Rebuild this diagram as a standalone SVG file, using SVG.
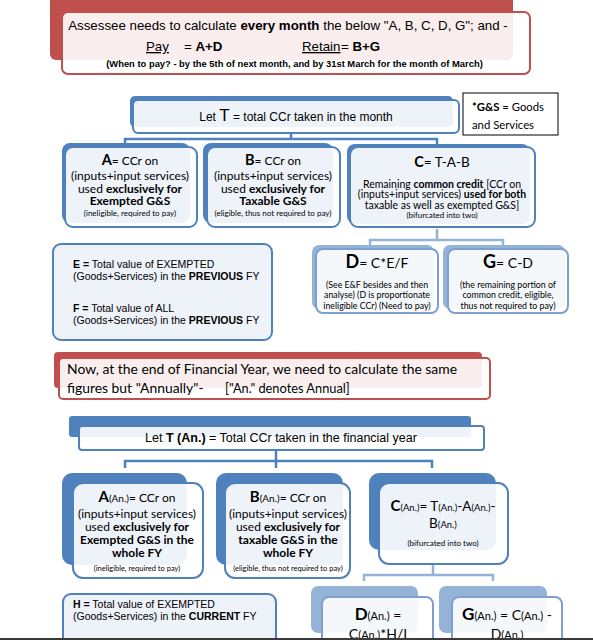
<svg xmlns="http://www.w3.org/2000/svg" width="593" height="640" viewBox="0 0 593 640">
<style>
.bg{fill:#ffffff}
.rback{fill:#c0504d}
.rfront{fill:#ffffff;fill-opacity:0.9;stroke:#c0504d;stroke-width:2}
.bback{fill:#4f81bd}
.bfront{fill:#ffffff;fill-opacity:0.9;stroke:#4f81bd;stroke-width:2}
.lback{fill:#95b3d7}
.lfront{fill:#ffffff;fill-opacity:0.9;stroke:#7f9fcf;stroke-width:2}
.plain{fill:#eef2f9;stroke:#4f81bd;stroke-width:2}
.note{fill:#ffffff;stroke:#000000;stroke-width:1}
.conn{fill:none;stroke:#4f81bd;stroke-width:2.5}
.connl{fill:none;stroke:#95b3d7;stroke-width:2.5}
.ar{font-family:"Liberation Sans",Arial,sans-serif;fill:#000}
.ca{font-family:Lato,"Open Sans",sans-serif;fill:#000}
.b{font-weight:bold}
.m{text-anchor:middle}
</style>
<rect class="bg" x="0" y="0" width="593" height="640"/>

<g id="connectors">
  <path class="conn" d="M291,133 V139 M125,144 V139 H437 V144"/>
  <path class="connl" d="M437,229 V240 M370,245 V240 H503 V245"/>
  <path class="conn" d="M276,450 V468 M125,468 V461 H432 V468"/>
  <path class="connl" d="M433,564 V575 M364,581 V575 H493 V581"/>
</g>

<g id="banner-monthly">
  <rect class="rback" x="50" y="-8" width="463" height="68" rx="6"/>
  <rect class="rfront" x="62" y="12" width="468" height="62" rx="6"/>
  <text class="ar m" x="288" y="30" font-size="13.3">Assessee needs to calculate <tspan class="b">every month</tspan> the below "A, B, C, D, G"; and -</text>
  <text class="ar" x="146" y="51" font-size="13.3" text-decoration="underline">Pay</text>
  <text class="ar" x="184" y="51" font-size="13.3">= <tspan class="b">A+D</tspan></text>
  <text class="ar" x="302" y="51" font-size="13.3" text-decoration="underline">Retain</text>
  <text class="ar" x="341" y="51" font-size="13.3">= <tspan class="b">B+G</tspan></text>
  <text class="ar b m" x="294.5" y="66.5" font-size="9.4">(When to pay? - by the 5th of next month, and by 31st March for the month of March)</text>
</g>

<g id="node-T">
  <rect class="bback" x="130" y="96" width="323" height="31" rx="5"/>
  <rect class="bfront" x="133" y="100" width="326" height="33" rx="5"/>
  <text class="ar m" x="296" y="121" font-size="12">Let <tspan font-size="17">T</tspan> = total CCr taken in the month</text>
</g>

<g id="note-GS">
  <rect class="note" x="463" y="93" width="95" height="42"/>
  <text class="ca" x="472" y="111" font-size="11.3"><tspan class="b">*G&amp;S</tspan> = Goods</text>
  <text class="ca" x="472" y="129" font-size="11.3">and Services</text>
</g>

<g id="node-A">
  <rect class="bback" x="62" y="143" width="128" height="80" rx="8"/>
  <rect class="bfront" x="65" y="147" width="132" height="80" rx="8"/>
  <text class="ca m" x="130" y="165" font-size="12"><tspan class="b" font-size="14.5">A</tspan>= CCr on</text>
  <text class="ca m" x="130" y="180" font-size="12">(inputs+input services)</text>
  <text class="ca m" x="130" y="192.5" font-size="12">used <tspan class="b">exclusively for</tspan></text>
  <text class="ca m b" x="130" y="204.5" font-size="12">Exempted G&amp;S</text>
  <text class="ca m" x="130" y="215.5" font-size="8">(ineligible, required to pay)</text>
</g>

<g id="node-B">
  <rect class="bback" x="203" y="143" width="130" height="80" rx="8"/>
  <rect class="bfront" x="207" y="147" width="133" height="80" rx="8"/>
  <text class="ca m" x="273" y="165" font-size="12"><tspan class="b" font-size="14.5">B</tspan>= CCr on</text>
  <text class="ca m" x="273" y="180" font-size="12">(inputs+input services)</text>
  <text class="ca m" x="273" y="192.5" font-size="12">used <tspan class="b">exclusively for</tspan></text>
  <text class="ca m b" x="273" y="204.5" font-size="12">Taxable G&amp;S</text>
  <text class="ca m" x="273" y="215.5" font-size="8">(eligible, thus not required to pay)</text>
</g>

<g id="node-C">
  <rect class="bback" x="347" y="144" width="183" height="80" rx="8"/>
  <rect class="bfront" x="350" y="147" width="185" height="80" rx="8"/>
  <text class="ca m" x="442" y="167" font-size="13.5"><tspan class="b" font-size="14.5">C</tspan>= T-A-B</text>
  <text class="ca m" x="442" y="187.5" font-size="10.5">Remaining <tspan class="b">common credit</tspan> [CCr on</text>
  <text class="ca m" x="442" y="198" font-size="10.5">(inputs+input services) <tspan class="b">used for both</tspan></text>
  <text class="ca m" x="442" y="208.5" font-size="10.5">taxable as well as exempted G&amp;S]</text>
  <text class="ca m" x="442" y="218" font-size="8">(bifurcated into two)</text>
</g>

<g id="node-EF">
  <rect class="plain" x="53" y="244" width="219" height="96" rx="8"/>
  <text class="ar" x="73" y="268" font-size="10.5"><tspan class="b">E =</tspan> Total value of EXEMPTED</text>
  <text class="ar" x="73" y="280" font-size="10.5">(Goods+Services) in the <tspan class="b">PREVIOUS</tspan> FY</text>
  <text class="ar" x="73" y="312" font-size="10.5"><tspan class="b">F =</tspan> Total value of ALL</text>
  <text class="ar" x="73" y="323.5" font-size="10.5">(Goods+Services) in the <tspan class="b">PREVIOUS</tspan> FY</text>
</g>

<g id="node-D">
  <rect class="lback" x="312" y="245" width="122" height="64" rx="7"/>
  <rect class="lfront" x="316" y="249" width="122" height="64" rx="7"/>
  <text class="ca m" x="377" y="268" font-size="14"><tspan class="b" font-size="18">D</tspan>= C*E/F</text>
  <text class="ca m" x="377" y="287.5" font-size="8.8">(See E&amp;F besides and then</text>
  <text class="ca m" x="377" y="297.5" font-size="8.8">analyse) (D is proportionate</text>
  <text class="ca m" x="377" y="308.5" font-size="8.8">ineligible CCr) (Need to pay)</text>
</g>

<g id="node-G">
  <rect class="lback" x="443" y="245" width="122" height="64" rx="7"/>
  <rect class="lfront" x="448" y="249" width="120" height="64" rx="7"/>
  <text class="ca m" x="508" y="268" font-size="14"><tspan class="b" font-size="18">G</tspan>= C-D</text>
  <text class="ca m" x="508" y="287.5" font-size="8.8">(the remaining portion of</text>
  <text class="ca m" x="508" y="297.5" font-size="8.8">common credit, eligible,</text>
  <text class="ca m" x="508" y="308.5" font-size="8.8">thus not required to pay)</text>
</g>

<g id="banner-annual">
  <rect class="rback" x="54" y="352" width="428" height="36" rx="4"/>
  <rect class="rfront" x="59" y="358" width="431" height="41" rx="4"/>
  <text class="ca" x="67" y="373.5" font-size="13.9">Now, at the end of Financial Year, we need to calculate the same</text>
  <text class="ca" x="67" y="392.5" font-size="13.9">figures but "Annually"-<tspan x="225" font-size="12.8">["An." denotes Annual]</tspan></text>
</g>

<g id="node-TAn">
  <rect class="bback" x="69" y="416" width="402" height="21" rx="3"/>
  <rect class="bfront" x="79" y="426" width="405" height="24" rx="3"/>
  <text class="ar m" x="281" y="442" font-size="12.5">Let <tspan class="b">T (An.)</tspan> = Total CCr taken in the financial year</text>
</g>

<g id="node-AAn">
  <rect class="bback" x="62" y="473" width="125" height="92" rx="10"/>
  <rect class="bfront" x="73" y="483" width="130" height="95" rx="10"/>
  <text class="ca m" x="137" y="502" font-size="12"><tspan font-size="15" class="b">A</tspan><tspan font-size="10">(An.)</tspan>= CCr on</text>
  <text class="ca m" x="137" y="517.5" font-size="12">(inputs+input services)</text>
  <text class="ca m" x="137" y="530.5" font-size="12">used <tspan class="b">exclusively for</tspan></text>
  <text class="ca m b" x="137" y="543.5" font-size="12">Exempted G&amp;S in the</text>
  <text class="ca m b" x="137" y="557" font-size="12">whole FY</text>
  <text class="ca m" x="137" y="571" font-size="7.5">(ineligible, required to pay)</text>
</g>

<g id="node-BAn">
  <rect class="bback" x="216" y="473" width="127" height="92" rx="10"/>
  <rect class="bfront" x="225" y="483" width="125" height="95" rx="10"/>
  <text class="ca m" x="288" y="502" font-size="12"><tspan font-size="15" class="b">B</tspan><tspan font-size="10">(An.)</tspan>= CCr on</text>
  <text class="ca m" x="288" y="517.5" font-size="12">(inputs+input services)</text>
  <text class="ca m" x="288" y="530.5" font-size="12">used <tspan class="b">exclusively for</tspan></text>
  <text class="ca m b" x="288" y="543.5" font-size="12">taxable G&amp;S in the</text>
  <text class="ca m b" x="288" y="557" font-size="12">whole FY</text>
  <text class="ca m" x="288" y="571" font-size="7.5">(eligible, thus not required to pay)</text>
</g>

<g id="node-CAn">
  <rect class="bback" x="369" y="473" width="127" height="77" rx="10"/>
  <rect class="bfront" x="379" y="483" width="129" height="81" rx="10"/>
  <text class="ca m" x="443" y="511" font-size="13.5"><tspan class="b" font-size="15">C</tspan><tspan font-size="9.5">(An.)</tspan>= T<tspan font-size="9.5">(An.)</tspan>-A<tspan font-size="9.5">(An.)</tspan>-</text>
  <text class="ca m" x="443" y="528" font-size="13.5">B<tspan font-size="9.5">(An.)</tspan></text>
  <text class="ca m" x="443" y="545.5" font-size="8">(bifurcated into two)</text>
</g>

<g id="node-H">
  <rect class="plain" x="63" y="594" width="213" height="60" rx="8"/>
  <text class="ar" x="73" y="608" font-size="10.5"><tspan class="b">H =</tspan> Total value of EXEMPTED</text>
  <text class="ar" x="73" y="620" font-size="10.5">(Goods+Services) in the <tspan class="b">CURRENT</tspan> FY</text>
</g>

<g id="node-DAn">
  <rect class="lback" x="311" y="586" width="107" height="47" rx="7"/>
  <rect class="lfront" x="322" y="597" width="111" height="60" rx="7"/>
  <text class="ca m" x="378" y="620" font-size="14"><tspan class="b" font-size="17">D</tspan><tspan font-size="11">(An.)</tspan> =</text>
  <text class="ca m" x="378" y="639" font-size="14">C<tspan font-size="11">(An.)</tspan>*H/I</text>
</g>

<g id="node-GAn">
  <rect class="lback" x="439" y="586" width="108" height="47" rx="7"/>
  <rect class="lfront" x="452" y="597" width="110" height="60" rx="7"/>
  <text class="ca m" x="507" y="620" font-size="14"><tspan class="b" font-size="17">G</tspan><tspan font-size="11">(An.)</tspan> = C<tspan font-size="11">(An.)</tspan> -</text>
  <text class="ca m" x="507" y="639" font-size="14">D<tspan font-size="11">(An.)</tspan></text>
</g>

<rect x="0" y="638" width="593" height="2" fill="#3a3a3a"/>
</svg>
